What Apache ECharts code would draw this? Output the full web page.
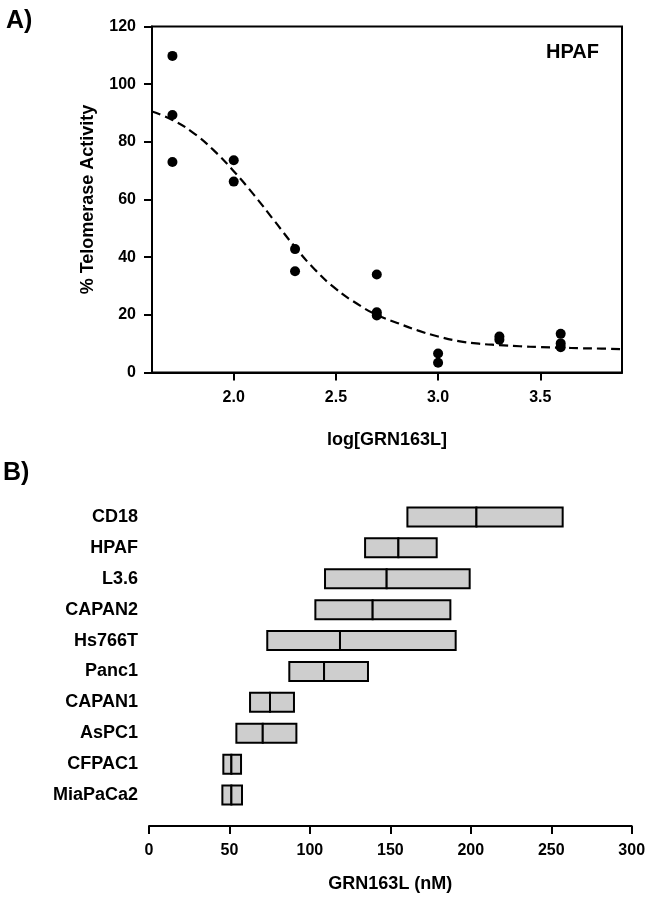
<!DOCTYPE html>
<html>
<head>
<meta charset="utf-8">
<script src="https://cdn.jsdelivr.net/npm/echarts@6/dist/echarts.min.js"></script>
<style>
html,body{margin:0;padding:0;background:#fff;}
#c{width:649px;height:897px;}
</style>
</head>
<body>
<div id="c"></div>
<script>
// ---------- Panel A data ----------
const doseLog = [1.7, 1.7, 1.7, 2.0, 2.0, 2.3, 2.3, 2.7, 2.7, 2.7, 3.0, 3.0, 3.3, 3.3, 3.6, 3.6, 3.6];
const activity = [109.8, 89.3, 73.0, 73.6, 66.2, 42.8, 35.1, 34.0, 20.9, 19.8, 6.6, 3.4, 12.5, 11.4, 13.4, 10.1, 8.8];
const fitX = [1.6, 1.7, 1.8, 1.9, 2.0, 2.1, 2.2, 2.3, 2.4, 2.5, 2.6, 2.7, 2.8, 2.9, 3.0, 3.1, 3.2, 3.3, 3.4, 3.5, 3.6, 3.7, 3.8, 3.9];
const fitY = [90.5, 87.6, 83.2, 77.2, 69.8, 61.5, 52.5, 43.5, 35.5, 29.0, 24.0, 20.0, 17.2, 14.6, 12.5, 10.9, 10.0, 9.5, 9.1, 8.8, 8.6, 8.4, 8.3, 8.1];
const xTicksA = [2.0, 2.5, 3.0, 3.5];

// ---------- Panel B data ----------
const cellLines = ['CD18', 'HPAF', 'L3.6', 'CAPAN2', 'Hs766T', 'Panc1', 'CAPAN1', 'AsPC1', 'CFPAC1', 'MiaPaCa2'];
const lowVals  = [160.6, 134.3, 109.4, 103.4, 73.5, 87.2, 62.8, 54.3, 46.2, 45.6];
const midVals  = [203.5, 155.0, 147.7, 139.0, 118.7, 108.8, 75.2, 70.7, 51.2, 51.2];
const highVals = [257.1, 178.8, 199.3, 187.3, 190.6, 136.1, 90.1, 91.6, 57.2, 57.8];

const FONT = '"Liberation Sans", Arial, sans-serif';

const chart = echarts.init(document.getElementById('c'), null, {renderer: 'canvas'});

const scatterData = doseLog.map((x, i) => [x, activity[i]]);
const fitData = fitX.map((x, i) => [x, fitY[i]]);
const boxData = cellLines.map((c, i) => [i, lowVals[i], midVals[i], highVals[i]]);

const option = {
  backgroundColor: '#fff',
  animation: false,
  grid: [
    {left: 152, top: 26.5, width: 470, height: 346, show: true, borderColor: '#000', borderWidth: 2, containLabel: false},
    {left: 149, top: 501.5, width: 482.7, height: 309, containLabel: false}
  ],
  xAxis: [
    {
      gridIndex: 0, type: 'value', min: 1.6, max: 3.9,
      splitLine: {show: false},
      axisLine: {show: true, onZero: false, lineStyle: {color: '#000', width: 2}},
      axisTick: {show: true, customValues: xTicksA, length: 8, inside: false, lineStyle: {color: '#000', width: 2}},
      axisLabel: {customValues: xTicksA, formatter: v => v.toFixed(1), color: '#000', fontWeight: 'bold', fontSize: 16, fontFamily: FONT, margin: 17},
      name: 'log[GRN163L]', nameLocation: 'middle', nameGap: 59,
      nameTextStyle: {color: '#000', fontWeight: 'bold', fontSize: 18, fontFamily: FONT}
    },
    {
      gridIndex: 1, type: 'value', min: 0, max: 300, interval: 50, offset: 15.5,
      splitLine: {show: false},
      axisLine: {show: true, onZero: false, lineStyle: {color: '#000', width: 2}},
      axisTick: {show: true, length: 8, inside: false, lineStyle: {color: '#000', width: 2}},
      axisLabel: {color: '#000', fontWeight: 'bold', fontSize: 16, fontFamily: FONT, margin: 17},
      name: 'GRN163L (nM)', nameLocation: 'middle', nameGap: 49,
      nameTextStyle: {color: '#000', fontWeight: 'bold', fontSize: 18, fontFamily: FONT}
    }
  ],
  yAxis: [
    {
      gridIndex: 0, type: 'value', min: 0, max: 120, interval: 20,
      splitLine: {show: false},
      axisLine: {show: true, lineStyle: {color: '#000', width: 2}},
      axisTick: {show: true, length: 8, inside: false, lineStyle: {color: '#000', width: 2}},
      axisLabel: {color: '#000', fontWeight: 'bold', fontSize: 16, fontFamily: FONT, margin: 16},
      name: '% Telomerase Activity', nameLocation: 'middle', nameGap: 55,
      nameTextStyle: {color: '#000', fontWeight: 'bold', fontSize: 18, fontFamily: FONT}
    },
    {
      gridIndex: 1, type: 'category', data: cellLines, inverse: true,
      axisLine: {show: false}, axisTick: {show: false}, splitLine: {show: false},
      axisLabel: {color: '#000', fontWeight: 'bold', fontSize: 18, fontFamily: FONT, margin: 11}
    }
  ],
  graphic: [
    {type: 'text', x: 6, y: 21, style: {text: 'A)', fill: '#000', font: 'bold 25px ' + FONT, verticalAlign: 'middle', align: 'left'}},
    {type: 'text', x: 3, y: 473, style: {text: 'B)', fill: '#000', font: 'bold 25px ' + FONT, verticalAlign: 'middle', align: 'left'}},
    {type: 'text', x: 599, y: 52.5, style: {text: 'HPAF', fill: '#000', font: 'bold 20px ' + FONT, verticalAlign: 'middle', align: 'right'}}
  ],
  series: [
    {
      type: 'line', xAxisIndex: 0, yAxisIndex: 0, data: fitData, smooth: true,
      showSymbol: false, symbol: 'none',
      lineStyle: {color: '#000', width: 2.2, type: [9, 5]}, z: 2
    },
    {
      type: 'scatter', xAxisIndex: 0, yAxisIndex: 0, data: scatterData,
      symbol: 'circle', symbolSize: 10, itemStyle: {color: '#000', opacity: 1}, z: 3
    },
    {
      type: 'custom', xAxisIndex: 1, yAxisIndex: 1, data: boxData,
      encode: {x: [1, 2, 3], y: 0},
      renderItem: function (params, api) {
        const cat = api.value(0);
        const pL = api.coord([api.value(1), cat]);
        const pM = api.coord([api.value(2), cat]);
        const pH = api.coord([api.value(3), cat]);
        const h = 19;
        const style = {fill: '#cecece', stroke: '#000', lineWidth: 2};
        return {
          type: 'group',
          children: [
            {type: 'rect', shape: {x: pL[0], y: pL[1] - h / 2, width: pM[0] - pL[0], height: h}, style: style},
            {type: 'rect', shape: {x: pM[0], y: pM[1] - h / 2, width: pH[0] - pM[0], height: h}, style: style}
          ]
        };
      }
    }
  ]
};
chart.setOption(option);
</script>
</body>
</html>
